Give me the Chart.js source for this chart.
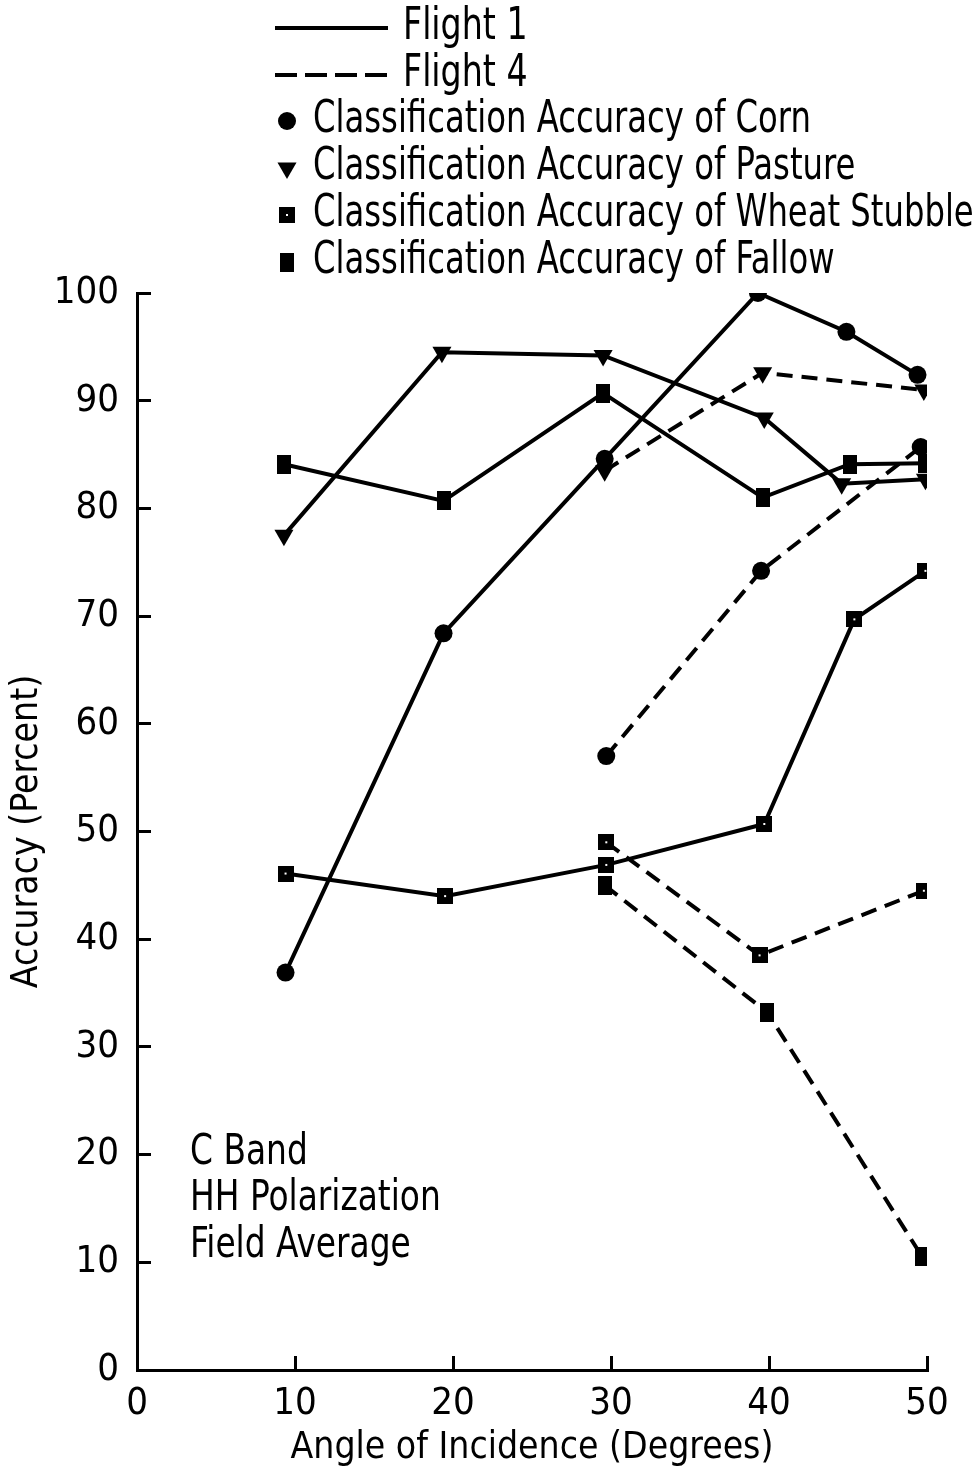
<!DOCTYPE html>
<html>
<head>
<meta charset="utf-8">
<script src="https://cdn.jsdelivr.net/npm/chart.js@4.4.0/dist/chart.umd.min.js"></script>
<style>
  html, body { margin: 0; padding: 0; background: #fff; }
  #wrap { width: 976px; height: 1476px; }
</style>
</head>
<body>
<div id="wrap"><canvas id="accuracyChart"></canvas></div>
<script>
const FONT = '"DejaVu Sans Condensed", "Liberation Sans Narrow", sans-serif';

// angle of incidence (degrees) for each series
const cornFlight1Angles = [9.4, 19.4, 29.6, 39.3, 44.9, 49.4];
const pastureFlight1Angles = [9.3, 19.3, 29.5, 39.7, 44.6, 49.9];
const wheatFlight1Angles = [9.4, 19.5, 29.7, 39.7, 45.4, 49.9];
const fallowFlight1Angles = [9.3, 19.4, 29.5, 39.6, 45.1, 49.9];
const cornFlight4Angles = [29.7, 39.5, 49.6];
const pastureFlight4Angles = [29.6, 39.6, 49.8];
const wheatFlight4Angles = [29.7, 39.4, 49.8];
const fallowFlight4Angles = [29.6, 39.9, 49.7];

// classification accuracy (percent)
const cornFlight1 = [36.9, 68.4, 84.6, 100, 96.4, 92.4];
const pastureFlight1 = [77.5, 94.5, 94.2, 88.4, 82.3, 82.7];
const wheatFlight1 = [46.1, 44.0, 46.9, 50.7, 69.7, 74.2];
const fallowFlight1 = [84.1, 80.7, 90.7, 81.0, 84.1, 84.2];
const cornFlight4 = [57.0, 74.2, 85.7];
const pastureFlight4 = [83.5, 92.6, 91.0];
const wheatFlight4 = [49.0, 38.5, 44.5];
const fallowFlight4 = [45.0, 33.2, 10.5];

const xTicks = [0, 10, 20, 30, 40, 50];
const yTicks = [0, 10, 20, 30, 40, 50, 60, 70, 80, 90, 100];

const flightNames = ['Flight 1', 'Flight 4'];
const cropNames = [
  'Classification Accuracy of Corn',
  'Classification Accuracy of Pasture',
  'Classification Accuracy of Wheat Stubble',
  'Classification Accuracy of Fallow'
];
const noteLines = ['C Band', 'HH Polarization', 'Field Average'];

const DASH = [16, 9];

// little bitmap markers for the two kinds of squares
function blockMark(w, h, dot) {
  const c = document.createElement('canvas');
  c.width = w; c.height = h;
  const g = c.getContext('2d');
  g.fillStyle = '#000';
  g.fillRect(0, 0, w, h);
  if (dot) {
    g.fillStyle = '#fff';
    g.fillRect(Math.floor(w / 2) - 1, Math.floor(h / 2) - 1, 2, 2);
  }
  return c;
}
const wheatMark = blockMark(16, 16, true);
const fallowMark = blockMark(14, 19, false);

const markers = [
  { pointStyle: 'circle', radius: 9, rotation: 0 },
  { pointStyle: 'triangle', radius: 11, rotation: 180 },
  { pointStyle: wheatMark, radius: 8, rotation: 0 },
  { pointStyle: fallowMark, radius: 8, rotation: 0 }
];

function pts(xs, ys) {
  return xs.map((x, i) => ({ x: x, y: ys[i] }));
}

function series(label, xs, ys, mark, dashed) {
  return {
    label: label,
    data: pts(xs, ys),
    borderColor: '#000',
    backgroundColor: '#000',
    borderWidth: 4,
    borderDash: dashed ? DASH : [],
    pointStyle: mark.pointStyle,
    pointRadius: mark.radius,
    pointRotation: mark.rotation,
    pointBackgroundColor: '#000',
    pointBorderWidth: 0,
    tension: 0,
    fill: false
  };
}

const datasets = [
  series('Corn, Flight 1', cornFlight1Angles, cornFlight1, markers[0], false),
  series('Pasture, Flight 1', pastureFlight1Angles, pastureFlight1, markers[1], false),
  series('Wheat Stubble, Flight 1', wheatFlight1Angles, wheatFlight1, markers[2], false),
  series('Fallow, Flight 1', fallowFlight1Angles, fallowFlight1, markers[3], false),
  series('Corn, Flight 4', cornFlight4Angles, cornFlight4, markers[0], true),
  series('Pasture, Flight 4', pastureFlight4Angles, pastureFlight4, markers[1], true),
  series('Wheat Stubble, Flight 4', wheatFlight4Angles, wheatFlight4, markers[2], true),
  series('Fallow, Flight 4', fallowFlight4Angles, fallowFlight4, markers[3], true)
];

// condensed text: squeeze horizontally around the start point
function narrowText(ctx, text, x, y, squeeze) {
  ctx.save();
  ctx.translate(x, y);
  ctx.scale(squeeze, 1);
  ctx.fillText(text, 0, 0);
  ctx.restore();
}

// key block at the top and the note in the lower left
const keyAndNote = {
  id: 'keyAndNote',
  afterDraw(chart) {
    const ctx = chart.ctx;
    ctx.save();
    ctx.fillStyle = '#000';
    ctx.strokeStyle = '#000';
    ctx.textAlign = 'left';
    ctx.textBaseline = 'middle';
    ctx.font = '44px ' + FONT;

    flightNames.forEach((name, i) => {
      const y = 28 + i * 47;
      ctx.lineWidth = 4;
      ctx.setLineDash(i === 0 ? [] : [22, 8]);
      ctx.beginPath();
      ctx.moveTo(275, y);
      ctx.lineTo(388, y);
      ctx.stroke();
      ctx.setLineDash([]);
      narrowText(ctx, name, 403, y, 0.84);
    });

    cropNames.forEach((name, i) => {
      const y = 121 + i * 47;
      const m = markers[i];
      Chart.helpers.drawPoint(ctx, {
        pointStyle: m.pointStyle,
        radius: m.radius,
        rotation: m.rotation,
        borderWidth: 0
      }, 287, y);
      narrowText(ctx, name, 313, y, 0.815);
    });

    ctx.font = '42px ' + FONT;
    noteLines.forEach((line, i) => {
      narrowText(ctx, line, 190, 1153 + i * 46.5, 0.87);
    });
    ctx.restore();
  }
};

const tickFont = { family: FONT, size: 38 };
const titleFont = { family: FONT, size: 37 };

new Chart(document.getElementById('accuracyChart'), {
  type: 'line',
  data: { datasets: datasets },
  options: {
    responsive: true,
    maintainAspectRatio: false,
    animation: false,
    layout: { padding: { top: 293, right: 49, bottom: 0, left: 0 } },
    plugins: {
      legend: { display: false },
      tooltip: { enabled: false }
    },
    scales: {
      x: {
        type: 'linear',
        min: 0,
        max: 50,
        afterBuildTicks: (s) => { s.ticks = xTicks.map(v => ({ value: v })); },
        afterFit: (s) => { s.height = 106; },
        ticks: { font: tickFont, color: '#000', padding: 25, maxRotation: 0 },
        grid: { drawOnChartArea: false, drawTicks: true, tickLength: -14, tickWidth: 3, color: '#000' },
        border: { color: '#000', width: 3 },
        title: {
          display: true,
          text: 'Angle of Incidence (Degrees)',
          font: titleFont,
          color: '#000',
          padding: { top: 0, bottom: 5 }
        }
      },
      y: {
        min: 0,
        max: 100,
        afterBuildTicks: (s) => { s.ticks = yTicks.map(v => ({ value: v })); },
        afterFit: (s) => { s.width = 137; },
        ticks: { font: tickFont, color: '#000', padding: 32 },
        grid: { drawOnChartArea: false, drawTicks: true, tickLength: -14, tickWidth: 3, color: '#000' },
        border: { color: '#000', width: 3 },
        title: {
          display: true,
          text: 'Accuracy (Percent)',
          font: titleFont,
          color: '#000',
          padding: { top: 5, bottom: 0 }
        }
      }
    }
  },
  plugins: [keyAndNote]
});
</script>
</body>
</html>
